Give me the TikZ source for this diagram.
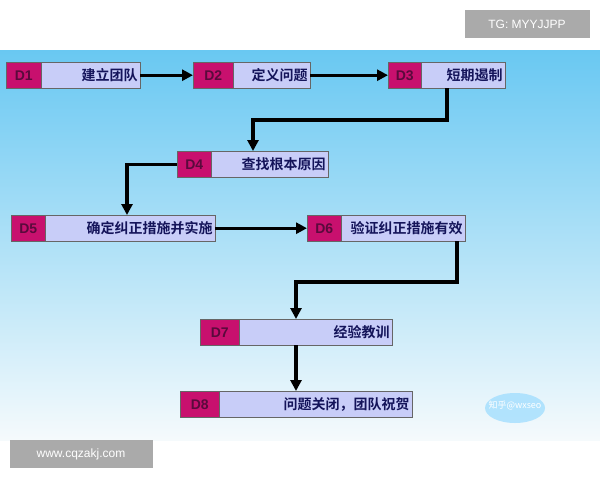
\documentclass[tikz,border=0pt]{standalone}
\usepackage{fontspec}
\setmainfont{Liberation Sans}
\newfontfamily\cjk{Noto Sans CJK SC}[BoldFont={Noto Sans CJK SC Bold}]
\usetikzlibrary{arrows.meta}
\definecolor{tagred}{RGB}{200,16,110}
\definecolor{tagtext}{RGB}{90,10,60}
\definecolor{bodyfill}{RGB}{200,205,248}
\definecolor{bodytext}{RGB}{20,20,90}
\definecolor{skytop}{RGB}{105,200,242}
\definecolor{skybot}{RGB}{245,250,252}
\definecolor{wmgrey}{RGB}{170,170,170}
\tikzset{
  tagbox/.style={draw=black!60, fill=tagred, anchor=north west, minimum height=26pt,
    inner sep=0pt, text height=10pt, text depth=0pt, font=\bfseries\fontsize{14}{14}\selectfont, text=tagtext},
  bodybox/.style={draw=black!60, fill=bodyfill, anchor=north west, minimum height=26pt,
    inner sep=0pt, align=right, font=\cjk\bfseries\fontsize{14}{14}\selectfont, text=bodytext},
  flow/.style={line width=3.4pt, -{Triangle[length=11pt,width=11pt]}}
}
\begin{document}
\begin{tikzpicture}[x=1pt,y=-1pt]
\useasboundingbox (0,0) rectangle (600,480);
%% background
\fill[white] (0,0) rectangle (600,480);
\shade[top color=skytop, bottom color=skybot] (0,50) rectangle (600,440);

%% steps
\node[tagbox, minimum width=35pt] (t1) at (6,62) {D1};
\node[bodybox, minimum width=99pt, text width=94pt] (d1) at (41,62) {建立团队};
\node[tagbox, minimum width=40pt] (t2) at (193,62) {D2};
\node[bodybox, minimum width=77pt, text width=72pt] (d2) at (233,62) {定义问题};
\node[tagbox, minimum width=33pt] (t3) at (388,62) {D3};
\node[bodybox, minimum width=84pt, text width=79pt] (d3) at (421,62) {短期遏制};
\node[tagbox, minimum width=34pt] (t4) at (177,151) {D4};
\node[bodybox, minimum width=117pt, text width=112pt] (d4) at (211,151) {查找根本原因};
\node[tagbox, minimum width=34pt] (t5) at (11,215) {D5};
\node[bodybox, minimum width=170pt, text width=165pt] (d5) at (45,215) {确定纠正措施并实施};
\node[tagbox, minimum width=34pt] (t6) at (307,215) {D6};
\node[bodybox, minimum width=124pt, text width=119pt] (d6) at (341,215) {验证纠正措施有效};
\node[tagbox, minimum width=39pt] (t7) at (200,319) {D7};
\node[bodybox, minimum width=153pt, text width=148pt] (d7) at (239,319) {经验教训};
\node[tagbox, minimum width=39pt] (t8) at (180,391) {D8};
\node[bodybox, minimum width=193pt, text width=188pt] (d8) at (219,391) {问题关闭，团队祝贺};

%% connectors
\draw[flow] (d1.east) -- (t2.west);
\draw[flow] (d2.east) -- (t3.west);
\draw[flow] (d3.south -| 447,0) |- (253,120) -- (t4.north -| 253,0);
\draw[flow] (t4.west) -| (t5.north -| 127,0);
\draw[flow] (d5.east) -- (t6.west);
\draw[flow] (d6.south -| 457,0) |- (296,282) -- (d7.north -| 296,0);
\draw[flow] (d7.south -| 296,0) -- (d8.north -| 296,0);

%% watermarks
\fill[blue!35!cyan!40, opacity=0.7] (515,408) ellipse (30pt and 15pt);
\node[text=white, font=\cjk\fontsize{9}{9}\selectfont] (logo) at (515,405) {知乎@wxseo};
\node[fill=wmgrey, text=white, minimum width=125pt, minimum height=28pt, font=\fontsize{12}{12}\selectfont] (tg) at (527,24) {TG: MYYJJPP};
\node[fill=wmgrey, text=white, minimum width=143pt, minimum height=28pt, font=\fontsize{12}{12}\selectfont] (www) at (81,454) {www.cqzakj.com};
\end{tikzpicture}
\end{document}
